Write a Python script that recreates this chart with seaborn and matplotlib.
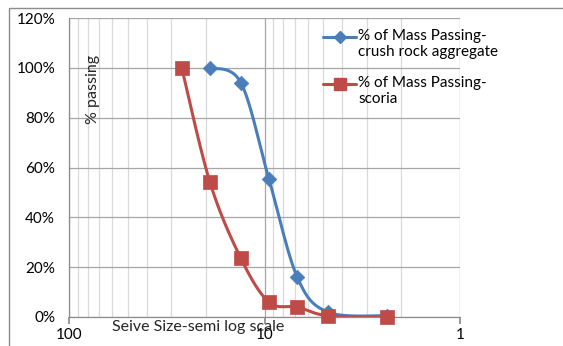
"""
Sieve analysis chart: % passing vs sieve size on a reversed semi-log axis,
crushed rock aggregate vs scoria.
"""

import numpy as np
import pandas as pd
import matplotlib
matplotlib.use("Agg")
import matplotlib.pyplot as plt
import matplotlib.ticker as mticker
from matplotlib.patches import Rectangle
from matplotlib.lines import Line2D
import seaborn as sns

sns.set_theme(style="white")
plt.rcParams["font.family"] = ["Lato", "DejaVu Sans"]

# sieve sizes (mm) and % passing
crush_size = [19.0, 13.2, 9.5, 6.8, 4.75, 2.36]
crush_pass = [100.0, 94.0, 55.5, 16.0, 2.0, 0.5]
scoria_size = [26.5, 19.0, 13.2, 9.5, 6.8, 4.75, 2.36]
scoria_pass = [100.0, 54.0, 23.5, 6.0, 4.0, 0.5, 0.0]

labels = ["% of Mass Passing-\ncrush rock aggregate", "% of Mass Passing-\nscoria"]
BLUE = "#4A7EBB"
RED = "#BE4B48"

W, H = 563, 346
AX_L, AX_R, AX_B, AX_T = 69, 460, 29, 328  # pixels


def smooth(xs, ys, n=30):
    # Excel-like smoothed line: Catmull-Rom in screen space (log x, y)
    px_per_dec = (AX_R - AX_L) / 2.0
    px_per_pct = (AX_T - AX_B) / 120.0
    u = -np.log10(xs) * px_per_dec
    v = np.asarray(ys) * px_per_pct
    P = np.column_stack([u, v])
    P = np.vstack([P[0], P, P[-1]])
    out = []
    for i in range(1, len(P) - 2):
        p0, p1, p2, p3 = P[i - 1], P[i], P[i + 1], P[i + 2]
        t = np.linspace(0, 1, n)[:, None]
        pts = 0.5 * ((2 * p1) + (-p0 + p2) * t + (2 * p0 - 5 * p1 + 4 * p2 - p3) * t ** 2
                     + (-p0 + 3 * p1 - 3 * p2 + p3) * t ** 3)
        out.append(pts if i == 1 else pts[1:])
    out = np.vstack(out)
    return pd.DataFrame({"size": 10 ** (-out[:, 0] / px_per_dec), "pct": out[:, 1] / px_per_pct})


fig = plt.figure(figsize=(W / 100, H / 100), dpi=100)
ax = fig.add_axes([AX_L / W, AX_B / H, (AX_R - AX_L) / W, (AX_T - AX_B) / H])

# chart-area frame (cut off at right and bottom like the source)
fig.patches.append(Rectangle((9 / W, -0.1), 1.2, (H - 8) / H + 0.1, transform=fig.transFigure,
                             fill=False, edgecolor="#8C8C8C", lw=1.0, zorder=0))

ax.set_xscale("log")
ax.set_xlim(100, 1)
ax.set_ylim(0, 120)

ax.xaxis.set_major_locator(mticker.FixedLocator([100, 10, 1]))
ax.xaxis.set_major_formatter(mticker.FixedFormatter(["100", "10", "1"]))
ax.xaxis.set_minor_locator(mticker.LogLocator(base=10, subs=np.arange(2, 10)))
ax.xaxis.set_minor_formatter(mticker.NullFormatter())
ax.yaxis.set_major_locator(mticker.MultipleLocator(20))
ax.yaxis.set_major_formatter(mticker.FuncFormatter(lambda v, p: f"{v:.0f}%"))

ax.grid(True, which="minor", axis="x", color="#D9D9D9", lw=0.9)
ax.grid(True, which="major", axis="x", color="#A6A6A6", lw=0.9)
ax.grid(True, which="major", axis="y", color="#A6A6A6", lw=0.9)
ax.set_axisbelow(True)

for side in ["top", "right"]:
    ax.spines[side].set_visible(False)
for side in ["left", "bottom"]:
    ax.spines[side].set_color("#8C8C8C")
    ax.spines[side].set_linewidth(0.9)

ax.tick_params(axis="x", which="major", direction="out", length=5, color="#8C8C8C",
               bottom=True, labelsize=11, pad=3, labelcolor="#000000")
ax.tick_params(axis="x", which="minor", length=0)
ax.tick_params(axis="y", length=0, labelsize=11, pad=10, labelcolor="#000000")

df_c = smooth(crush_size, crush_pass)
df_s = smooth(scoria_size, scoria_pass)
sns.lineplot(data=df_c, x="size", y="pct", sort=False, estimator=None, color=BLUE, lw=2.2, ax=ax)
sns.lineplot(data=df_s, x="size", y="pct", sort=False, estimator=None, color=RED, lw=2.2, ax=ax)
sns.scatterplot(x=crush_size, y=crush_pass, marker="D", s=55, color=BLUE, edgecolor=BLUE,
                linewidth=0.5, ax=ax, zorder=4, clip_on=False)
sns.scatterplot(x=scoria_size, y=scoria_pass, marker="s", s=110, color=RED, edgecolor=RED,
                linewidth=0.5, ax=ax, zorder=5, clip_on=False)

ax.set_xlabel("")
ax.set_ylabel("")
ax.text(0.061, 0.76, "% passing", transform=ax.transAxes, rotation=90,
        ha="center", va="center", fontsize=11.5)
ax.text(0.33, -0.035, "Seive Size-semi log scale", transform=ax.transAxes,
        ha="center", va="center", fontsize=11.5, clip_on=False)

# legend drawn to match the source: handle beside first text line
legend_rows = [(BLUE, "D", 6, 37), (RED, "s", 9, 84)]
for (col, mk, ms, ypx), lab in zip(legend_rows, labels):
    yf = 1 - ypx / H
    fig.add_artist(Line2D([323 / W, 356 / W], [yf, yf], transform=fig.transFigure,
                          color=col, lw=2.2))
    fig.add_artist(Line2D([339.5 / W], [yf], transform=fig.transFigure, color=col,
                          marker=mk, markersize=ms, ls="none", markeredgecolor=col))
    fig.text(358 / W, yf + 8 / H, lab, ha="left", va="top", fontsize=11,
             linespacing=1.2, color="#000000")

fig.savefig("out.png", dpi=100)
